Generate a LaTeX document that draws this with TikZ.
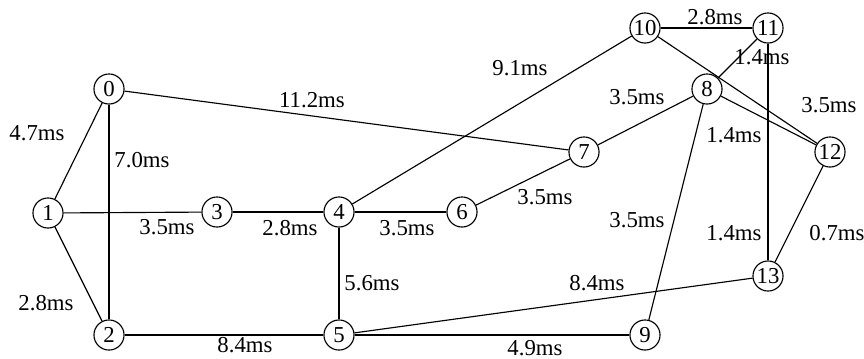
\documentclass[tikz,border=0pt]{standalone}
\usepackage{fontspec}
\setmainfont{Liberation Serif}
\usepackage{tikz}
\usetikzlibrary{calc}

\tikzset{
    vertex/.style={draw, circle, fill=white, minimum size=13.2pt, inner sep=0pt, line width=0.5pt, font=\rmfamily},
    link/.style={line width=0.5pt},
    lbl/.style={inner sep=0pt, font=\rmfamily}
}

\begin{document}
\begin{tikzpicture}[x=0.01542cm, y=-0.01542cm]
        % picture measured in pixels of the 864 x 358 frame, y runs down
        \useasboundingbox (0,0) rectangle (864,358);

        % routers
        \node[vertex] (n0) at (109,89) {0};
        \node[vertex] (n1) at (48,213) {1};
        \node[vertex] (n2) at (109,335) {2};
        \node[vertex] (n3) at (217,212) {3};
        \node[vertex] (n4) at (339,212) {4};
        \node[vertex] (n5) at (339,335) {5};
        \node[vertex] (n6) at (462,212) {6};
        \node[vertex] (n7) at (584,152) {7};
        \node[vertex] (n8) at (707,89) {8};
        \node[vertex] (n9) at (645,335) {9};
        \node[vertex] (n10) at (645,28) {10};
        \node[vertex] (n11) at (768,28) {11};
        \node[vertex] (n12) at (830,152) {12};
        \node[vertex] (n13) at (768,276) {13};

        % links
        \draw[link] (n0) -- (n1);
        \draw[link] (n0) -- (n2);
        \draw[link] (n0) -- (n7);
        \draw[link] (n1) -- (n3);
        \draw[link] (n1) -- (n2);
        \draw[link] (n3) -- (n4);
        \draw[link] (n4) -- (n6);
        \draw[link] (n4) -- (n5);
        \draw[link] (n4) -- (n10);
        \draw[link] (n2) -- (n5);
        \draw[link] (n5) -- (n9);
        \draw[link] (n5) -- (n13);
        \draw[link] (n6) -- (n7);
        \draw[link] (n7) -- (n8);
        \draw[link] (n8) -- (n11);
        \draw[link] (n8) -- (n12);
        \draw[link] (n8) -- (n9);
        \draw[link] (n10) -- (n11);
        \draw[link] (n10) -- (n12);
        \draw[link] (n11) -- (n13);
        \draw[link] (n12) -- (n13);

        % delays
        \node[lbl] (d01) at (37,133) {4.7ms};
        \node[lbl] (d02) at (142,160) {7.0ms};
        \node[lbl] (d07) at (312,100) {11.2ms};
        \node[lbl] (d13) at (167,227) {3.5ms};
        \node[lbl] (d12) at (46,303) {2.8ms};
        \node[lbl] (d34) at (290,228) {2.8ms};
        \node[lbl] (d46) at (407,228) {3.5ms};
        \node[lbl] (d45) at (372,283) {5.6ms};
        \node[lbl] (d410) at (520,68) {9.1ms};
        \node[lbl] (d25) at (245,345) {8.4ms};
        \node[lbl] (d59) at (535,348) {4.9ms};
        \node[lbl] (d513) at (597,283) {8.4ms};
        \node[lbl] (d67) at (545,197) {3.5ms};
        \node[lbl] (d78) at (637,97) {3.5ms};
        \node[lbl] (d811) at (762,57) {1.4ms};
        \node[lbl] (d812) at (734,135) {1.4ms};
        \node[lbl] (d89) at (637,220) {3.5ms};
        \node[lbl] (d1011) at (715,17) {2.8ms};
        \node[lbl] (d1012) at (829,105) {3.5ms};
        \node[lbl] (d1113) at (734,233) {1.4ms};
        \node[lbl] (d1213) at (837,233) {0.7ms};
    \end{tikzpicture}
\end{document}
